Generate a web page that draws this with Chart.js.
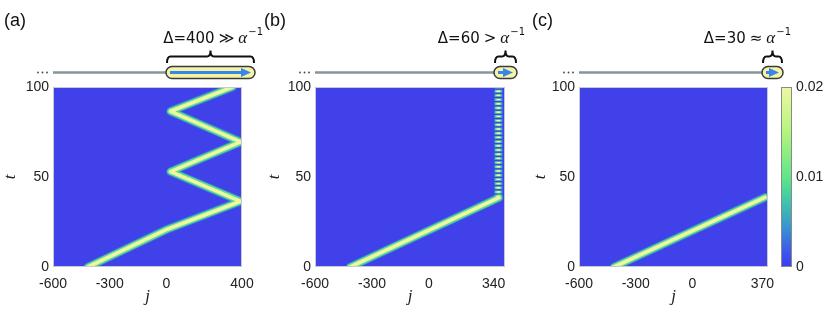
<!DOCTYPE html>
<html>
<head>
<meta charset="utf-8">
<script src="https://cdn.jsdelivr.net/npm/chart.js@4"></script>
<style>
  html, body { margin: 0; padding: 0; background: #fff; }
  #wrap { position: relative; width: 830px; height: 309px; overflow: hidden; }
  #wrap canvas { position: absolute; top: 0; }
</style>
</head>
<body>
<div id="wrap">
  <canvas id="ca" width="268" height="309" style="left:0px"></canvas>
  <canvas id="cb" width="280" height="309" style="left:255px"></canvas>
  <canvas id="cc" width="302" height="309" style="left:528px"></canvas>
</div>
<script>
// axis ticks
const tTicks = [0, 50, 100];
const jTicksA = [-600, -300, 0, 400];
const jTicksB = [-600, -300, 0, 340];
const jTicksC = [-600, -300, 0, 370];
const cbarTicks = [0, 0.01, 0.02];

// bright wavepacket track (j, t)
const trackAj = [-415, 5, 393, 22, 393, 22, 350];
const trackAt = [0, 21, 36.5, 53, 69.5, 86.5, 100];
const trackBj = [-415, 368];
const trackBt = [0, 38.5];
const trappedBj = [365, 365];
const trappedBt = [38.5, 100];
const trackCj = [-415, 384];
const trackCt = [0, 38.7];

// schematic above each panel
const regionStart = [0, 340, 370];
const deltaVals = [400, 60, 30];
const relSigns = ['≫', '>', '≈'];
const panelNames = ['(a)', '(b)', '(c)'];

const bgBlue = '#4141e9';
const tickFont = { family: 'Liberation Sans', size: 14 };

function pts(js, ts) {
  return js.map((j, i) => ({ x: j, y: ts[i] }));
}

// three stacked strokes give the yellow core with green/teal edge
function glow(data, dashed) {
  const layers = [
    { w: 8.5, c: 'rgba(52,150,210,0.8)', dash: [3, 1.2], off: 0 },
    { w: 6.5, c: '#5fdd8e', dash: [2.4, 1.8], off: -0.3 },
    { w: 3.6, c: '#eef7a2', dash: [1.4, 2.8], off: -0.8 }
  ];
  return layers.map((l, k) => ({
    data: data,
    showLine: true,
    pointRadius: 0,
    borderColor: l.c,
    borderWidth: l.w,
    borderCapStyle: dashed ? 'butt' : 'round',
    borderJoinStyle: 'round',
    borderDash: dashed ? l.dash : [],
    borderDashOffset: dashed ? l.off : 0,
    order: 3 - k
  }));
}

function dot(ctx, x, y) {
  ctx.beginPath();
  ctx.arc(x, y, 0.9, 0, Math.PI * 2);
  ctx.fill();
}

function capsule(ctx, x0, y0, w, h) {
  const r = h / 2;
  ctx.beginPath();
  ctx.moveTo(x0 + r, y0);
  ctx.lineTo(x0 + w - r, y0);
  ctx.arc(x0 + w - r, y0 + r, r, -Math.PI / 2, Math.PI / 2);
  ctx.lineTo(x0 + r, y0 + h);
  ctx.arc(x0 + r, y0 + r, r, Math.PI / 2, Math.PI * 1.5);
  ctx.closePath();
}

const schematic = {
  id: 'schem',
  beforeDatasetsDraw(chart, args, o) {
    const { ctx, chartArea: a } = chart;
    ctx.save();
    ctx.fillStyle = bgBlue;
    ctx.fillRect(a.left, a.top, a.width, a.height);
    ctx.restore();
  },
  afterDraw(chart, args, o) {
    const { ctx, chartArea: a } = chart;
    const xs = chart.scales.x;
    const yMid = a.top - 14.5;
    const x0 = Math.round(xs.getPixelForValue(o.start));
    const x1 = a.right + o.over;
    ctx.save();

    // light box edge
    ctx.strokeStyle = '#c8c8d4';
    ctx.lineWidth = 1;
    ctx.strokeRect(a.left + 0.5, a.top + 0.5, a.width - 1, a.height - 1);

    // panel letter
    ctx.fillStyle = '#111';
    ctx.font = '18px "Liberation Sans"';
    ctx.textBaseline = 'alphabetic';
    ctx.fillText(o.letter, o.letterX, 26);

    // dots + gray chain
    ctx.fillStyle = '#444';
    [15, 10.5, 6].forEach(d => dot(ctx, a.left - d, yMid));
    ctx.strokeStyle = '#86959a';
    ctx.lineWidth = 2.5;
    ctx.beginPath();
    ctx.moveTo(a.left, yMid);
    ctx.lineTo(x0 + 3, yMid);
    ctx.stroke();

    // yellow capsule
    capsule(ctx, x0, yMid - 6, x1 - x0, 12);
    ctx.fillStyle = '#f3f4a6';
    ctx.fill();
    ctx.lineWidth = 1.5;
    ctx.strokeStyle = '#3a3a3a';
    ctx.stroke();

    // blue arrow
    ctx.strokeStyle = '#3a86e8';
    ctx.fillStyle = '#3a86e8';
    ctx.lineWidth = 3;
    const ax0 = x0 + 4, ax1 = x1 - 4;
    ctx.beginPath();
    ctx.moveTo(ax0, yMid);
    ctx.lineTo(ax1 - 8, yMid);
    ctx.stroke();
    ctx.beginPath();
    ctx.moveTo(ax1, yMid);
    ctx.lineTo(ax1 - 10, yMid - 4.5);
    ctx.lineTo(ax1 - 10, yMid + 4.5);
    ctx.closePath();
    ctx.fill();

    // brace
    const b0 = x0 + 1, b1 = x1 - 1, bm = (b0 + b1) / 2;
    const yb = 63, yh = 56.5, yt = 50.5, r = 3.5;
    ctx.strokeStyle = '#111';
    ctx.lineWidth = 2;
    ctx.beginPath();
    ctx.moveTo(b0, yb);
    ctx.quadraticCurveTo(b0, yh, b0 + r, yh);
    ctx.lineTo(bm - r, yh);
    ctx.quadraticCurveTo(bm, yh, bm, yt);
    ctx.quadraticCurveTo(bm, yh, bm + r, yh);
    ctx.lineTo(b1 - r, yh);
    ctx.quadraticCurveTo(b1, yh, b1, yb);
    ctx.stroke();

    // label  Δ=.. rel α^-1
    const parts = [
      { t: 'Δ=' + o.delta, f: '15px "DejaVu Sans"', dy: 0, gap: 4 },
      { t: o.rel, f: '15px "DejaVu Sans"', dy: 0, gap: 4 },
      { t: 'α', f: 'italic 17px "Liberation Serif"', dy: 0, gap: 1 },
      { t: '−1', f: '10px "DejaVu Sans"', dy: -8, gap: 0 }
    ];
    let total = 0;
    parts.forEach(p => { ctx.font = p.f; p.w = ctx.measureText(p.t).width; total += p.w + p.gap; });
    let tx = x1 + 8 - total;
    ctx.fillStyle = '#111';
    parts.forEach(p => {
      ctx.font = p.f;
      ctx.fillText(p.t, tx, 43 + p.dy);
      tx += p.w + p.gap;
    });

    // colorbar
    if (o.cbar) {
      const cx = a.right + 13, cw = 11;
      const top = a.top, bot = a.bottom;
      const g = ctx.createLinearGradient(0, bot, 0, top);
      g.addColorStop(0, '#3b3bf0');
      g.addColorStop(0.1, '#3d5ee8');
      g.addColorStop(0.25, '#38a0c8');
      g.addColorStop(0.4, '#45cfa0');
      g.addColorStop(0.5, '#62e58a');
      g.addColorStop(0.75, '#b5f47c');
      g.addColorStop(1, '#eef7a4');
      ctx.fillStyle = g;
      ctx.fillRect(cx, top, cw, bot - top);
      ctx.strokeStyle = '#8a8a8a';
      ctx.lineWidth = 1;
      ctx.strokeRect(cx + 0.5, top + 0.5, cw - 1, bot - top - 1);
      ctx.fillStyle = '#222';
      ctx.font = '14px "Liberation Sans"';
      ctx.textBaseline = 'middle';
      const vmax = cbarTicks[cbarTicks.length - 1];
      cbarTicks.forEach(v => {
        const y = bot - (v / vmax) * (bot - top);
        ctx.fillText(String(v), cx + cw + 4, y);
      });
    }
    ctx.restore();
  }
};

function makePanel(id, datasets, jTicks, padL, yW, padR, opts) {
  new Chart(document.getElementById(id), {
    type: 'scatter',
    data: { datasets },
    plugins: [schematic],
    options: {
      responsive: false,
      animation: false,
      layout: { padding: { top: 87, left: padL, right: padR, bottom: 0 } },
      plugins: {
        legend: { display: false },
        tooltip: { enabled: false },
        schem: opts
      },
      scales: {
        x: {
          type: 'linear', min: -600, max: 400,
          afterBuildTicks: s => { s.ticks = jTicks.map(v => ({ value: v })); },
          afterFit: s => { s.height = 42; },
          grid: { display: false, drawTicks: false },
          border: { display: false },
          ticks: { padding: 9, font: tickFont, color: '#222', maxRotation: 0, autoSkip: false },
          title: { display: true, text: 'j', color: '#222', padding: { top: 0, bottom: 2 },
                   font: { family: 'Liberation Serif', style: 'italic', size: 17 } }
        },
        y: {
          type: 'linear', min: 0, max: 100,
          afterBuildTicks: s => { s.ticks = tTicks.map(v => ({ value: v })); },
          afterFit: s => { s.width = yW; },
          grid: { display: false, drawTicks: false },
          border: { display: false },
          ticks: { padding: 4, font: tickFont, color: '#222', autoSkip: false },
          title: { display: true, text: 't', color: '#222', padding: { top: 0, bottom: 0 },
                   font: { family: 'Liberation Serif', style: 'italic', size: 17 } }
        }
      }
    }
  });
}

makePanel('ca', glow(pts(trackAj, trackAt), false), jTicksA, 0, 53, 26,
  { start: regionStart[0], over: 13, delta: deltaVals[0], rel: relSigns[0], letter: panelNames[0], letterX: 4, cbar: false });

makePanel('cb', glow(pts(trackBj, trackBt), false).concat(glow(pts(trappedBj, trappedBt), true)), jTicksB, 9, 51, 30,
  { start: regionStart[1], over: 12, delta: deltaVals[1], rel: relSigns[1], letter: panelNames[1], letterX: 9, cbar: false });

makePanel('cc', glow(pts(trackCj, trackCt), false), jTicksC, 2, 49, 62,
  { start: regionStart[2], over: 15, delta: deltaVals[2], rel: relSigns[2], letter: panelNames[2], letterX: 4, cbar: true });
</script>
</body>
</html>
